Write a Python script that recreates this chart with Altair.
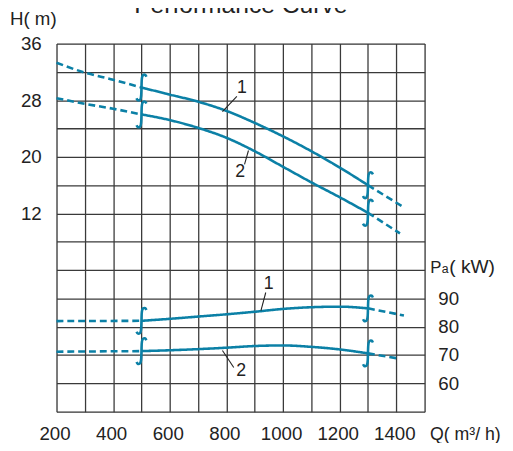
import altair as alt
import pandas as pd

# ---------------- data ----------------
# Head curves  H (m) vs Q (m3/h)
Q_H1 = [200, 300, 400, 500, 600, 700, 800, 900, 1000, 1100, 1200, 1300, 1430]
H1 = [33.3, 31.9, 30.9, 29.8, 28.8, 27.8, 26.5, 24.8, 22.9, 20.8, 18.5, 16.0, 12.8]
Q_H2 = [200, 300, 400, 500, 600, 700, 800, 900, 1000, 1100, 1200, 1300, 1413]
H2 = [28.3, 27.5, 26.8, 26.0, 25.2, 24.1, 22.7, 20.8, 18.6, 16.4, 14.3, 12.1, 9.2]

# Shaft power curves  Pa (kW) vs Q (m3/h)
Q_P1 = [200, 500, 600, 700, 800, 900, 1000, 1100, 1200, 1300, 1427]
P1 = [82.0, 82.1, 82.8, 83.6, 84.4, 85.3, 86.3, 86.9, 87.1, 86.5, 84.0]
Q_P2 = [200, 500, 600, 700, 800, 900, 1000, 1100, 1200, 1300, 1401]
P2 = [71.2, 71.4, 71.7, 72.1, 72.6, 73.2, 73.4, 72.9, 72.0, 70.6, 68.9]

# operating range limits (break marks)
BREAK_Q = [500, 1300]

# curve labels: (text, label Q, label value, leader Q start, leader value start, leader Q end, leader value end)
HEAD_LABELS = [("1", 855, 29.7, 837, 28.55, 786, 26.4),
               ("2", 849, 17.8, 878, 20.9, 864, 18.95)]
POWER_LABELS = [("1", 949, 94.9, 939, 92.1, 922, 85.7),
                ("2", 852, 64.25, 826, 65.6, 786, 71.6)]

X_GRID = list(range(200, 1501, 100))
X_LABELS = [200, 400, 600, 800, 1000, 1200, 1400]
H_GRID = list(range(-16, 37, 4))
H_LABELS = [12, 20, 28, 36]
P_LABELS = [60, 70, 80, 90]

# ---------------- styling ----------------
TEAL = "#0b80a6"
GRID = "#3a3a3a"
FONT = "Liberation Sans"
W, H = 374, 374
PX_Q = W / 1300.0      # px per m3/h
PX_H = H / 52.0        # px per m
PX_P = H / 130.0       # px per kW
HALF_BREAK = 13.5      # px half height of break marks


def curve_rows(qs, vs, cid):
    rows = []
    for q, v in zip(qs, vs):
        if q <= BREAK_Q[0]:
            rows.append(dict(Q=q, V=v, seg=cid + "L", style="dash"))
        if BREAK_Q[0] <= q <= BREAK_Q[1]:
            rows.append(dict(Q=q, V=v, seg=cid + "M", style="solid"))
        if q >= BREAK_Q[1]:
            rows.append(dict(Q=q, V=v, seg=cid + "R", style="dash"))
    return rows


def break_rows(qs, vs, cid, px_v):
    rows = []
    shape = [(5, 2.5, "t"), (4, 0.2, "t"), (1.5, 0.5, "t"), (0, 3, "t"),
             (0, -3, "b"), (-1.5, -0.5, "b"), (-4, -0.2, "b"), (-5, -2.5, "b")]
    lookup = dict(zip(qs, vs))
    for bq in BREAK_Q:
        c = lookup[bq]
        top = c + HALF_BREAK / px_v
        bot = c - HALF_BREAK / px_v
        for i, (dx, dy, which) in enumerate(shape):
            base = top if which == "t" else bot
            rows.append(dict(Q=bq + dx / PX_Q, V=base - dy / px_v,
                             id=f"{cid}{bq}", o=i))
    return rows


x_axis = alt.Axis(values=X_GRID, grid=True, gridColor=GRID, gridWidth=1.3,
                  domain=False, ticks=False, tickSize=0, format="d",
                  labelExpr="(datum.value % 200 == 0 && datum.value <= 1400) ? datum.label : ''",
                  labelFont=FONT, labelFontSize=19, labelColor="#222",
                  labelBaseline="middle", labelPadding=22.5, labelOffset=-2,
                  labelFlush=False, labelOverlap=False, title=None)
h_axis = alt.Axis(orient="left", values=H_GRID, grid=True, gridColor=GRID,
                  gridWidth=1.3, domain=False, ticks=False, tickSize=0,
                  format="d",
                  labelExpr="indexof([12, 20, 28, 36], datum.value) >= 0 ? datum.label : ''",
                  labelFont=FONT, labelFontSize=19, labelColor="#222",
                  labelPadding=15.5, labelBaseline="middle",
                  labelFlush=False, labelOverlap=False, title=None)
p_axis = alt.Axis(orient="right", values=P_LABELS, grid=False, domain=False,
                  ticks=False, tickSize=0, format="d",
                  labelFont=FONT, labelFontSize=19, labelColor="#222",
                  labelPadding=13.5, labelBaseline="middle",
                  labelFlush=False, labelOverlap=False, title=None)

x_scale = alt.Scale(domain=[200, 1500], nice=False, zero=False)
x_enc = alt.X("Q:Q", scale=x_scale, axis=x_axis)
h_scale = alt.Scale(domain=[-16, 36], nice=False, zero=False)
p_scale = alt.Scale(domain=[50, 180], nice=False, zero=False)

dash_scale = alt.Scale(domain=["solid", "dash"], range=[[1, 0], [7, 4]])


def panel(curves, px_v, yscale, yaxis, labels):
    rows, brk = [], []
    for qs, vs, cid in curves:
        rows += curve_rows(qs, vs, cid)
        brk += break_rows(qs, vs, cid, px_v)
    y_enc = alt.Y("V:Q", scale=yscale, axis=yaxis)
    lines = alt.Chart(pd.DataFrame(rows)).mark_line(
        interpolate="monotone", strokeWidth=2.6, color=TEAL
    ).encode(x=x_enc, y=y_enc, detail="seg:N",
             strokeDash=alt.StrokeDash("style:N", scale=dash_scale, legend=None))
    breaks = alt.Chart(pd.DataFrame(brk)).mark_line(
        interpolate="basis", strokeWidth=2.6, color=TEAL
    ).encode(x=x_enc, y=y_enc, detail="id:N", order="o:Q")
    lab_df = pd.DataFrame([dict(t=t, Q=q, V=v, Qa=qa, Va=va, Q2=qb, V2=vb)
                           for t, q, v, qa, va, qb, vb in labels])
    texts = alt.Chart(lab_df).mark_text(
        font=FONT, fontSize=18, color="#222", baseline="middle", align="center"
    ).encode(x=x_enc, y=y_enc, text="t:N")
    leaders = alt.Chart(lab_df).mark_rule(strokeWidth=1.1, color="#222").encode(
        x=alt.X("Qa:Q", scale=x_scale, axis=x_axis),
        x2="Q2:Q",
        y=alt.Y("Va:Q", scale=yscale, axis=yaxis),
        y2="V2:Q")
    return alt.layer(lines, breaks, leaders, texts)


head = panel([(Q_H1, H1, "h1"), (Q_H2, H2, "h2")], PX_H, h_scale, h_axis, HEAD_LABELS)
power = panel([(Q_P1, P1, "p1"), (Q_P2, P2, "p2")], PX_P, p_scale, p_axis, POWER_LABELS)


def label(text, x, y, size, align="left"):
    return alt.Chart(pd.DataFrame({"t": [text]})).mark_text(
        font=FONT, fontSize=size, color="#222", align=align, baseline="alphabetic"
    ).encode(x=alt.value(x), y=alt.value(y), text="t:N")


texts = alt.layer(
    label("Performance Curve", 187.2, -30.7, 25, "center"),
    label("H( m)", -23.6, -19.0, 19, "center"),
    label("P", 379.8, 232.6, 17),
    label("a", 391.4, 232.6, 12.5),
    label("( kW)", 399.0, 232.6, 19.5),
    label("Q( m³/ h)", 379.4, 29.0 + H, 18),
)

chart = alt.layer(head, power, texts).resolve_scale(y="independent").properties(
    width=W, height=H,
    autosize=alt.AutoSizeParams(type="none"),
    padding={"left": 49.3, "top": 32.7, "right": 81.7, "bottom": 28.3},
).configure_view(stroke=None).configure(background="white")

chart.save("out.html", embed_options={"renderer": "svg", "actions": False})
